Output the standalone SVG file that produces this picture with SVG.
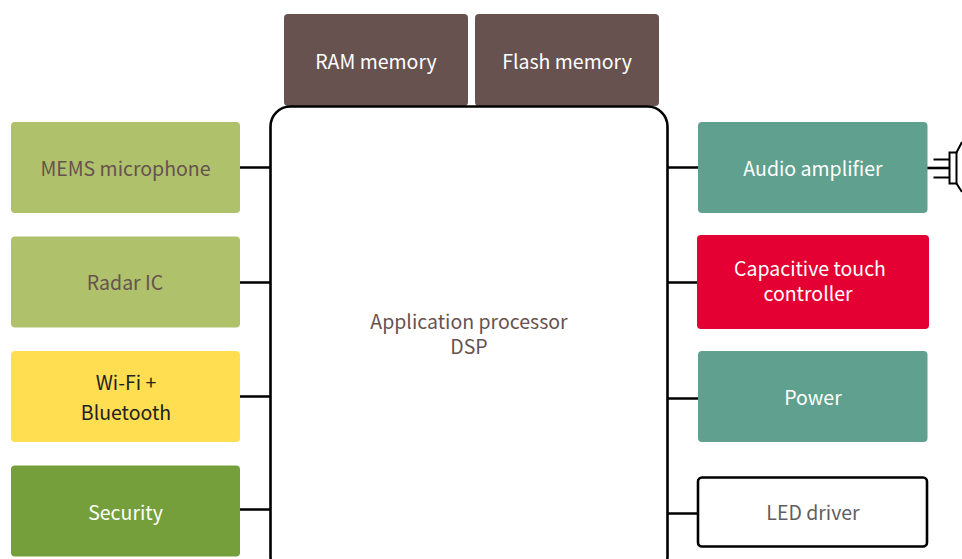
<svg xmlns="http://www.w3.org/2000/svg" width="962" height="559" viewBox="0 0 962 559">
<style>
text{font-family:"Noto Sans CJK SC","Noto Sans",sans-serif;font-size:19.5px;text-anchor:middle}
.c{stroke:#000;stroke-width:2.6;fill:none}
.w{fill:#fff}.d{fill:#67524f}.k{fill:#222}.g{fill:#5f5f5f}
</style>
<rect width="962" height="559" fill="#fff"/>
<g id="connectors">
<path class="c" d="M240 167.500H270M240 282.500H270M240 396.500H270M240 509.500H270M668 167.500H698M668 282.500H698M668 398.500H698M668 513.500H698"/>
<path class="c" d="M927 168H950" stroke-width="2.500"/>
<path d="M933.500 159.500H950M933.500 177.500H950" stroke="#000" stroke-width="2" fill="none"/>
</g>
<g id="speaker"><path d="M949.500 152.500H956.500V183.500H949.500Z" fill="#fff" stroke="#000" stroke-width="2"/>
<path d="M956.500 152.500L962 142M956.500 183.500L962 192" stroke="#000" stroke-width="2" fill="none"/></g>
<g id="ram"><rect x="284" y="14" width="184" height="92" rx="4" fill="#67524f"/><text class="w" x="376" y="69">RAM memory</text></g>
<g id="flash"><rect x="475" y="14" width="184" height="92" rx="4" fill="#67524f"/><text class="w" x="567" y="69">Flash memory</text></g>
<g id="processor"><rect x="270.500" y="106.500" width="397" height="470" rx="20" fill="#fff" stroke="#000" stroke-width="2.600"/><text class="d" x="469" y="329">Application processor</text><text class="d" x="469" y="354">DSP</text></g>
<g id="mems"><rect x="11" y="122" width="229" height="91" rx="4" fill="#afc16b"/><text class="d" x="125.500" y="176">MEMS microphone</text></g>
<g id="radar"><rect x="11" y="236.500" width="229" height="91" rx="4" fill="#afc16b"/><text class="d" x="125" y="290">Radar IC</text></g>
<g id="wifi"><rect x="11" y="351" width="229" height="91" rx="4" fill="#ffde52"/><text class="k" x="126" y="390">Wi-Fi +</text><text class="k" x="126" y="420">Bluetooth</text></g>
<g id="security"><rect x="11" y="465.500" width="229" height="91" rx="4" fill="#749f3b"/><text class="w" x="125.500" y="520">Security</text></g>
<g id="audio"><rect x="698" y="122" width="229.500" height="91" rx="4" fill="#60a08e"/><text class="w" x="813" y="176">Audio amplifier</text></g>
<g id="touch"><rect x="697" y="235" width="232" height="94" rx="4" fill="#e40032"/><text class="w" x="810" y="276">Capacitive touch</text><text class="w" x="808" y="301">controller</text></g>
<g id="power"><rect x="698" y="351" width="229.500" height="91" rx="4" fill="#60a08e"/><text class="w" x="813" y="405">Power</text></g>
<g id="led"><rect x="698" y="477.500" width="229" height="69" rx="4" fill="#fff" stroke="#000" stroke-width="2.600"/><text class="g" x="813" y="520">LED driver</text></g>
</svg>
